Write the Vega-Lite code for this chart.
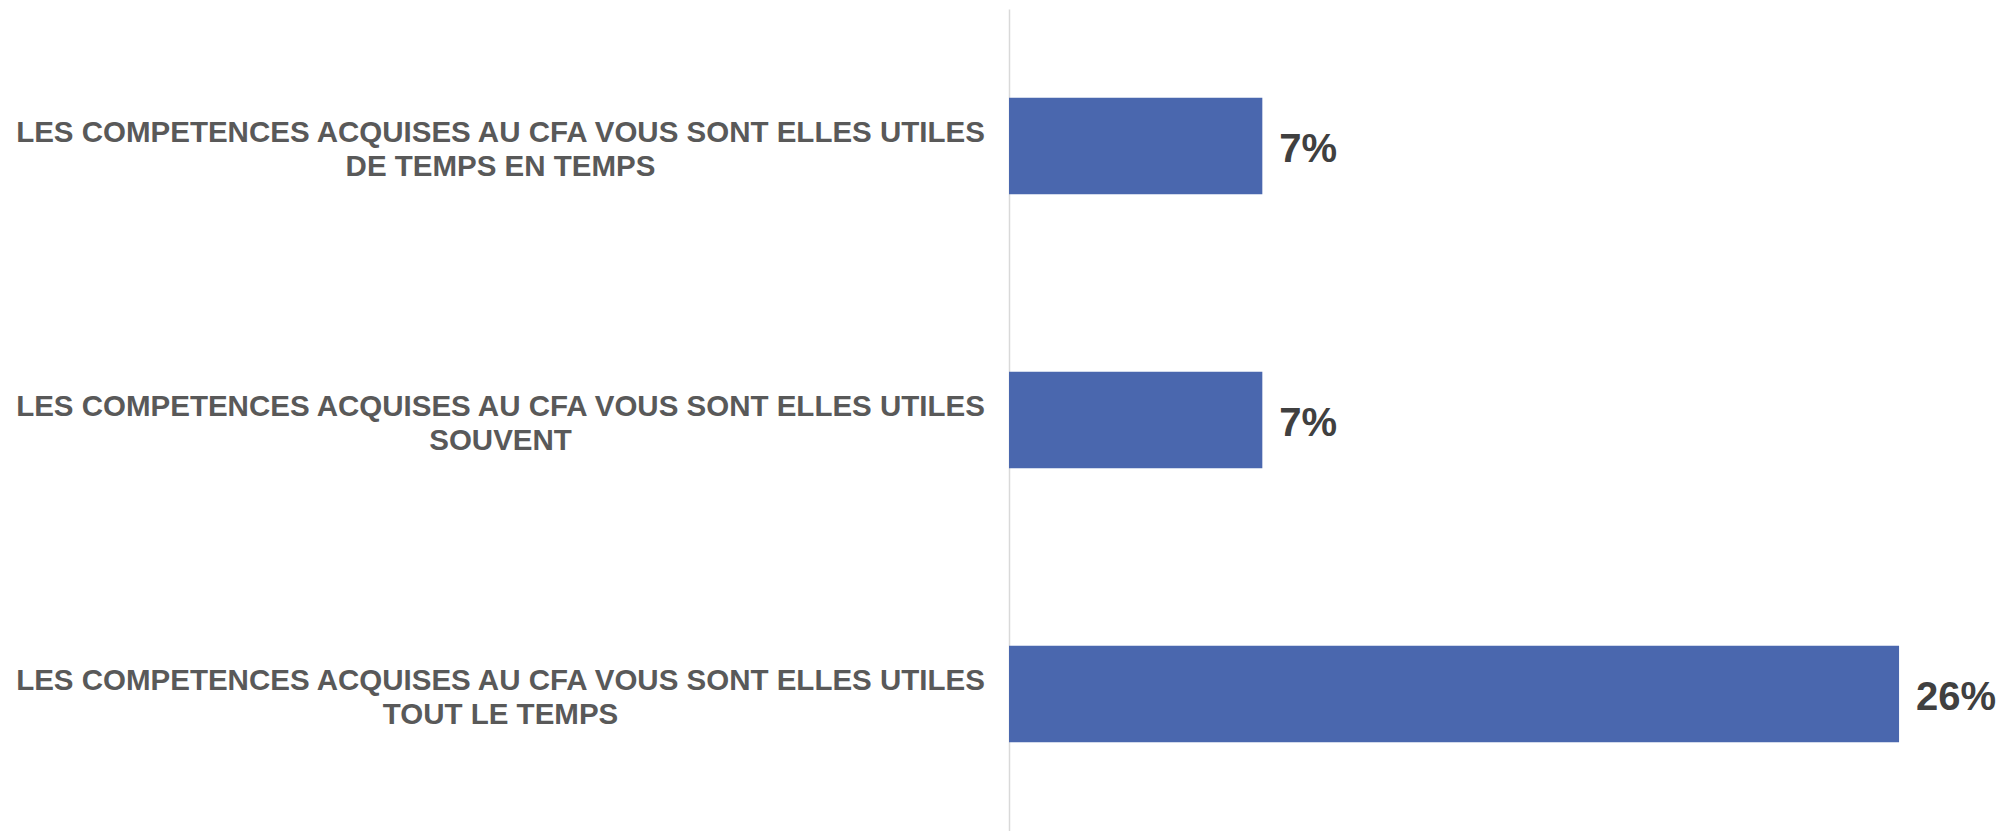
{
  "$schema": "https://vega.github.io/schema/vega-lite/v6.json",
  "autosize": {"type": "none"},
  "padding": {"left": 1009, "top": 9, "right": 0, "bottom": 0},
  "width": 1002,
  "height": 822,
  "background": "white",
  "config": {"view": {"stroke": null}, "font": "Liberation Sans"},
  "data": {
    "values": [
      {"categorie": "LES COMPETENCES ACQUISES AU CFA VOUS SONT ELLES UTILES DE TEMPS EN TEMPS", "valeur": 0.074},
      {"categorie": "LES COMPETENCES ACQUISES AU CFA VOUS SONT ELLES UTILES SOUVENT", "valeur": 0.074},
      {"categorie": "LES COMPETENCES ACQUISES AU CFA VOUS SONT ELLES UTILES TOUT LE TEMPS", "valeur": 0.26}
    ]
  },
  "encoding": {
    "y": {
      "field": "categorie",
      "type": "nominal",
      "sort": null,
      "scale": {"paddingInner": 0.647, "paddingOuter": 0.3235},
      "axis": {
        "title": null,
        "ticks": false,
        "tickSize": 0,
        "domainColor": "#d9d9d9",
        "domainWidth": 1.5,
        "labelAlign": "center",
        "labelBaseline": "middle",
        "labelPadding": 509,
        "labelOffset": -13,
        "labelFont": "Liberation Sans",
        "labelFontSize": 29.5,
        "labelFontWeight": "bold",
        "labelColor": "#595959",
        "labelLineHeight": 34,
        "labelLimit": 0,
        "labelExpr": "[slice(datum.label, 0, 54), slice(datum.label, 55)]"
      }
    },
    "x": {
      "field": "valeur",
      "type": "quantitative",
      "scale": {"domain": [0, 0.2927], "nice": false, "zero": true},
      "axis": null
    }
  },
  "layer": [
    {"mark": {"type": "bar", "color": "#4a67ae"}},
    {
      "mark": {
        "type": "text",
        "align": "left",
        "baseline": "middle",
        "dx": 17,
        "dy": 4,
        "font": "Liberation Sans",
        "fontSize": 40,
        "fontWeight": "bold",
        "color": "#404040"
      },
      "encoding": {
        "text": {"field": "valeur", "type": "quantitative", "format": ".0%"}
      }
    }
  ]
}
